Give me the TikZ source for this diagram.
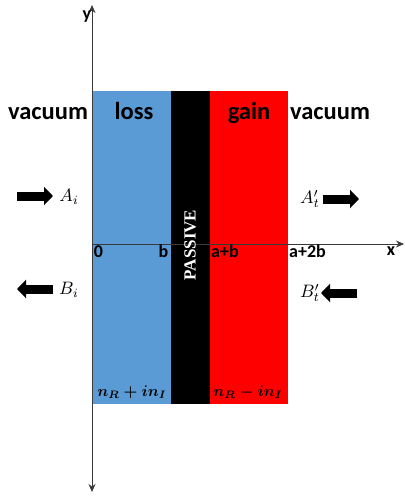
\documentclass[tikz,border=0pt]{standalone}
\usepackage{amsmath}
\usepackage{fontspec}
\setmainfont{Carlito}
\newfontfamily\passivefont{Liberation Serif}
\usetikzlibrary{arrows.meta}
\definecolor{lossblue}{HTML}{5B9BD5}
\definecolor{axisgray}{HTML}{3A3A3A}
\begin{document}
\begin{tikzpicture}[x=1pt,y=-1pt,
  region/.style={draw=none, inner sep=0, outer sep=0},
  lbl/.style={font=\fontsize{24.5}{24.5}\selectfont\bfseries, anchor=base, inner sep=0},
  axlbl/.style={font=\fontsize{18}{18}\selectfont\bfseries, anchor=base, inner sep=0},
  mlbl/.style={scale=1.8, inner sep=0},
  nlbl/.style={scale=1.55, inner sep=0},
  blockarrow/.style={line width=9pt, -{Triangle[length=9pt,width=18pt]}},
  axis/.style={draw=axisgray, line width=0.8pt}]
\useasboundingbox (0,0) rectangle (404,497);
% layers
\node[region, fill=lossblue, minimum width=79pt, minimum height=313.5pt] (lossr) at (131.5,247.5) {};
\node[region, fill=black, minimum width=39pt, minimum height=313.5pt] (passr) at (190.5,247.5) {};
\node[region, fill=red, minimum width=78pt, minimum height=313.5pt] (gainr) at (249,247.5) {};
% axes
\coordinate (ytop) at (92,5);
\coordinate (ybot) at (92,492);
\coordinate (xl) at (92,244);
\coordinate (xr) at (404,244);
\draw[axis, {Stealth[length=8pt,width=7pt]}-{Stealth[length=8pt,width=7pt]}] (ybot) -- (ytop);
\draw[axis, -{Stealth[length=8pt,width=7pt]}] (xl) -- (xr);
\node[axlbl] (ylab) at (87,20) {y};
\node[axlbl] (xlab) at (391,255) {x};
% axis tick labels
\node[axlbl] (l0) at (98.5,257) {0};
\node[axlbl] (lb) at (163.5,257) {b};
\node[axlbl] (lab) at (225,257) {a+b};
\node[axlbl] (la2b) at (307.5,257) {a+2b};
% region titles
\node[lbl] (vac1) at (48,120) {vacuum};
\node[lbl] (losst) at (134,120) {loss};
\node[lbl] (gaint) at (249,120) {gain};
\node[lbl] (vac2) at (330,120) {vacuum};
\node[rotate=90, text=white, inner sep=0, font=\passivefont\fontsize{17}{17}\selectfont\bfseries] (passive) at (190,245) {PASSIVE};
% indices
\node[nlbl] (nl) at (132,392) {$\boldsymbol{n_R+in_I}$};
\node[nlbl] (ng) at (248,392) {$\boldsymbol{n_R-in_I}$};
% waves
\coordinate (ai1) at (17,196); \coordinate (ai2) at (53,196);
\draw[blockarrow] (ai1) -- (ai2);
\node[mlbl] (Ai) at (69,197) {$A_i$};
\coordinate (bi1) at (53,289); \coordinate (bi2) at (17,289);
\draw[blockarrow] (bi1) -- (bi2);
\node[mlbl] (Bi) at (69,290) {$B_i$};
\coordinate (at1) at (323,199); \coordinate (at2) at (359,199);
\draw[blockarrow] (at1) -- (at2);
\node[mlbl] (At) at (310,199) {$A'_t$};
\coordinate (bt1) at (357,293); \coordinate (bt2) at (321,293);
\draw[blockarrow] (bt1) -- (bt2);
\node[mlbl] (Bt) at (310,293) {$B'_t$};
\end{tikzpicture}
\end{document}
